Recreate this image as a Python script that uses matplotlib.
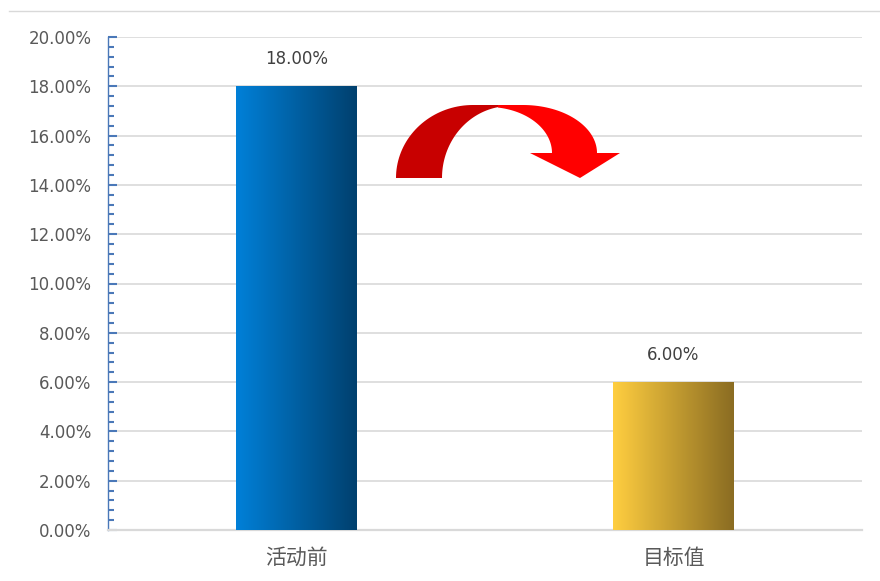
import numpy as np
import matplotlib.pyplot as plt
from matplotlib.patches import Polygon
from matplotlib.colors import LinearSegmentedColormap
from matplotlib.ticker import MultipleLocator, FuncFormatter

plt.rcParams['font.family'] = ['Noto Sans CJK SC', 'DejaVu Sans']

categories = ['活动前', '目标值']
values = [18.0, 6.0]
bar_colors = [('#0080D8', '#00406E'), ('#FFCE40', '#8A6C22')]

fig = plt.figure(figsize=(8.8, 5.81), dpi=100)
ax = fig.add_axes([108 / 880, 51 / 581, 754 / 880, 493 / 581])

x = np.arange(len(categories))
bars = ax.bar(x, values, width=0.32, color='none', zorder=3)

# gradient fill for each bar
for b, (c1, c2) in zip(bars, bar_colors):
    cmap = LinearSegmentedColormap.from_list('g', [c1, c2])
    grad = np.linspace(0, 1, 256).reshape(1, -1)
    im = ax.imshow(grad, cmap=cmap, aspect='auto', zorder=3,
                   extent=[b.get_x(), b.get_x() + b.get_width(), 0, b.get_height()])
    im.set_clip_path(b)

for xi, v in zip(x, values):
    ax.annotate(f'{v:.2f}%', (xi, v), xytext=(0, 13), textcoords='offset points',
                ha='center', va='bottom', fontsize=12, color='#404040',
                family=['DejaVu Sans'])

ax.set_xlim(-0.5, 1.5)
ax.set_ylim(0, 20)
ax.set_xticks(x)
ax.set_xticklabels(categories, fontsize=15, color='#595959')
ax.tick_params(axis='x', length=0, pad=12)

ax.yaxis.set_major_locator(MultipleLocator(2))
ax.yaxis.set_minor_locator(MultipleLocator(0.4))
ax.yaxis.set_major_formatter(FuncFormatter(lambda v, p: f'{v:.2f}%'))
ax.tick_params(axis='y', which='major', direction='in', length=6.5, width=1.5,
               color='#4A78B8', labelsize=12, labelcolor='#595959', pad=12)
ax.tick_params(axis='y', which='minor', direction='in', length=4.3, width=1.5,
               color='#4A78B8')
for lab in ax.get_yticklabels():
    lab.set_family(['DejaVu Sans'])

ax.grid(axis='y', color='#D9D9D9', lw=1.2, zorder=0)
ax.set_axisbelow(True)
for s in ['top', 'right']:
    ax.spines[s].set_visible(False)
ax.spines['left'].set_color('#4A78B8')
ax.spines['left'].set_linewidth(1)
ax.spines['bottom'].set_color('#D9D9D9')
ax.spines['bottom'].set_linewidth(1.6)

# overlay in pixel coordinates for decoration
ov = fig.add_axes([0, 0, 1, 1], zorder=5)
ov.set_xlim(0, 880)
ov.set_ylim(581, 0)
ov.axis('off')
ov.plot([9, 880], [11, 11], color='#D9D9D9', lw=1)


def arc(cx, cy, rx, ry, t0, t1, n=40):
    t = np.linspace(t0, t1, n)
    return np.column_stack([cx + rx * np.cos(t), cy - ry * np.sin(t)])


# dark left half of the curved arrow
outer_l = arc(473, 178, 77, 73, np.pi, np.pi / 2)
inner_l = arc(510, 178, 68, 72, np.arccos(-12 / 68), np.pi)
left_pts = np.vstack([outer_l, [[498, 105]], inner_l])
ov.add_patch(Polygon(left_pts, closed=True, fc='#C80000', ec='none'))

# bright right half
outer_r = arc(523, 153, 74, 48, np.pi / 2, 0)
inner_r = arc(488, 153, 64, 46, 0, np.arccos(10 / 64))
right_pts = np.vstack([[[498, 105]], outer_r, [[620, 153], [580, 178], [530, 153]],
                       inner_r])
ov.add_patch(Polygon(right_pts, closed=True, fc='#FF0000', ec='none'))

fig.savefig('out.png', dpi=100)
